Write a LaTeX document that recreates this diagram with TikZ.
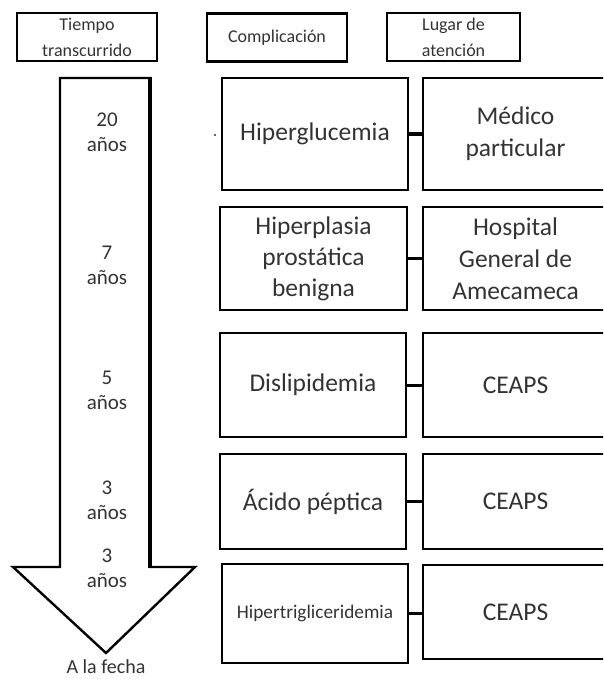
\documentclass[tikz,border=0pt]{standalone}
\usepackage{fontspec}
\setmainfont{Carlito}
\definecolor{txt}{HTML}{333333}
\begin{document}
\begin{tikzpicture}[x=1pt,y=-1pt,
  box/.style={draw=black, line width=2.4pt, inner sep=0pt, align=center, text=txt},
  head/.style={box, minimum height=48pt, font=\fontsize{18}{26}\selectfont},
  cause/.style={box, minimum width=186pt, font=\fontsize{25.5}{31}\selectfont},
  place/.style={box, minimum width=185pt, font=\fontsize{25.5}{32}\selectfont},
  span/.style={align=center, text=txt, inner sep=0pt, font=\fontsize{21}{25}\selectfont},
  link/.style={draw=black, line width=3.5pt}]
\useasboundingbox (0,0) rectangle (603,679);
\clip (0,0) rectangle (603,679);

% column headings
\node[head, minimum width=140pt] (hTime)  at (87,37)    {Tiempo\\transcurrido};
\node[head, minimum width=140pt] (hComp)  at (277,37.5) {Complicación};
\node[head, minimum width=133pt] (hPlace) at (453.5,37) {Lugar de\\atención};

% time arrow
\draw[line width=2.4pt, line join=miter] (60,78) -- (150,78) -- (150,567) -- (195,567)
  -- (106,653) -- (13,567) -- (60,567) -- cycle;
\draw[line width=4pt] (150,77) -- (150,568);
\node[span] (t1) at (107,132) {20\\años};
\node[span] (t2) at (107,265) {7\\años};
\node[span] (t3) at (107,390) {5\\años};
\node[span] (t4) at (107,500) {3\\años};
\node[span] (t5) at (107,568) {3\\años};
\node[span, font=\fontsize{20}{24}\selectfont] (now) at (106,667) {A la fecha};

% complications
\node[cause, minimum height=112pt] (c1) at (315,134)   {Hiperglucemia};
\node[cause, minimum height=103pt, minimum width=187pt] (c2) at (313.5,258.5) {Hiperplasia\\prostática\\benigna};
\node[cause, minimum height=104pt] (c3) at (313,385)   {Dislipidemia};
\node[cause, minimum height=95pt]  (c4) at (313,501.5) {Ácido péptica};
\node[cause, minimum height=99pt, font=\fontsize{19.3}{23}\selectfont] (c5) at (315,613.5) {Hipertrigliceridemia};

% places of care
\node[place, minimum height=112pt] (p1) at (515.5,134)   {Médico\\particular};
\node[place, minimum height=103pt] (p2) at (515.5,258.5) {Hospital\\General de\\Amecameca};
\node[place, minimum height=104pt] (p3) at (515.5,385)   {CEAPS};
\node[place, minimum height=95pt]  (p4) at (515.5,501.5) {CEAPS};
\node[place, minimum height=94pt]  (p5) at (515.5,612)   {CEAPS};

% links between each complication and its place of care
\draw[link] (c1.east) -- (c1.east -| p1.west);
\draw[link] (c2.east) -- (c2.east -| p2.west);
\draw[link, line width=3pt] (c3.east) -- (c3.east -| p3.west);
\draw[link, line width=3pt] (c4.east) -- (c4.east -| p4.west);
\draw[link, line width=3pt] (c5.east) -- (c5.east -| p5.west);

% stray mark beside the first box
\fill[txt] (215,135) circle (1.1pt);
\end{tikzpicture}
\end{document}
